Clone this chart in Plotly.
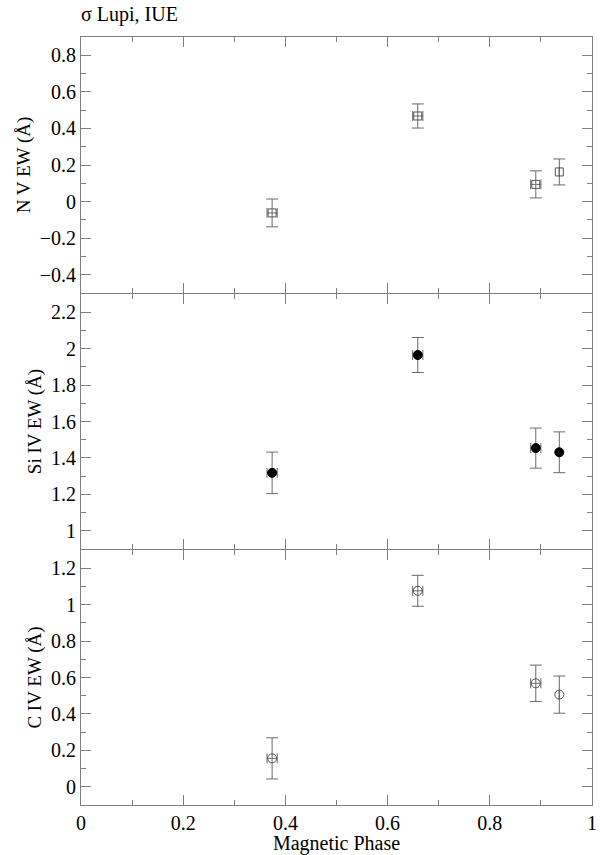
import plotly.graph_objects as go
from plotly.subplots import make_subplots

nan = float("nan")

# magnetic phase of the four IUE spectra
phase = [0.374, 0.659, 0.890, 0.936]
phase_err = [0.010, 0.010, 0.010, nan]

# equivalent widths (Angstrom) and errors
nv_ew = [-0.062, 0.468, 0.094, 0.162]
nv_err = [0.076, 0.066, 0.074, 0.071]
siiv_ew = [1.318, 1.965, 1.454, 1.431]
siiv_err = [0.114, 0.096, 0.110, 0.112]
civ_ew = [0.156, 1.076, 0.568, 0.506]
civ_err = [0.113, 0.085, 0.100, 0.102]

panels = [
    ("N V EW (Å)", nv_ew, nv_err, "square-open", "#555555", [-0.5, 0.9]),
    ("Si IV EW (Å)", siiv_ew, siiv_err, "circle", "black", [0.9, 2.3]),
    ("C IV EW (Å)", civ_ew, civ_err, "circle-open", "#555555", [-0.1, 1.3]),
]

axis_grey = "#808080"
bar_grey = "#6a6a6a"
font = "Liberation Serif"

# plot height is 768 px; panels overlap by one pixel so the shared borders are single lines
H = 768.0
domains = [[512 / H, 1.0], [256 / H, 511 / H], [0.0, 255 / H]]

fig = make_subplots(rows=3, cols=1, shared_xaxes=True, vertical_spacing=0)

for i, (label, ew, err, symbol, mcolor, yrange) in enumerate(panels, start=1):
    fig.add_trace(
        go.Scatter(
            x=phase, y=ew, mode="markers",
            marker=dict(symbol=symbol, size=9 if symbol != "square-open" else 8,
                        color=mcolor, line=dict(color=mcolor, width=1)),
            error_y=dict(type="data", array=err, color=bar_grey, thickness=1, width=6),
            error_x=dict(type="data", array=phase_err, color=bar_grey, thickness=1, width=5),
            showlegend=False,
        ),
        row=i, col=1,
    )
    fig.update_yaxes(
        domain=domains[i - 1],
        range=yrange, dtick=0.2, ticks="inside", ticklen=10, tickcolor=axis_grey,
        minor=dict(ticks="inside", ticklen=5, dtick=0.1, tickcolor=axis_grey),
        showline=True, linecolor=axis_grey, linewidth=1, mirror="allticks",
        showgrid=False, zeroline=False, automargin=False,
        title=dict(text=label, standoff=4, font=dict(size=19)),
        row=i, col=1,
    )
    fig.update_xaxes(
        range=[0, 1], dtick=0.2, ticks="inside", ticklen=10, tickcolor=axis_grey,
        minor=dict(ticks="inside", ticklen=5, dtick=0.1, tickcolor=axis_grey),
        showline=True, linecolor=axis_grey, linewidth=1, mirror="allticks",
        showgrid=False, zeroline=False, automargin=False,
        row=i, col=1,
    )

fig.update_xaxes(title=dict(text="Magnetic Phase", standoff=0, font=dict(size=20)),
                 row=3, col=1)

fig.add_annotation(
    text="σ Lupi, IUE", xref="paper", yref="paper", x=-0.003, y=1.0,
    yshift=23, xanchor="left", yanchor="middle", showarrow=False,
    font=dict(size=20, family=font, color="black"),
)

fig.update_layout(
    width=600, height=855,
    margin=dict(l=81, r=8, t=37, b=50),
    paper_bgcolor="white", plot_bgcolor="white",
    font=dict(family=font, size=20, color="black"),
)

# drop the browser's default body margin so the figure sits at the page corner
fig.write_html("out.html", config={"displayModeBar": False},
               post_script="document.body.style.margin = '0';")
